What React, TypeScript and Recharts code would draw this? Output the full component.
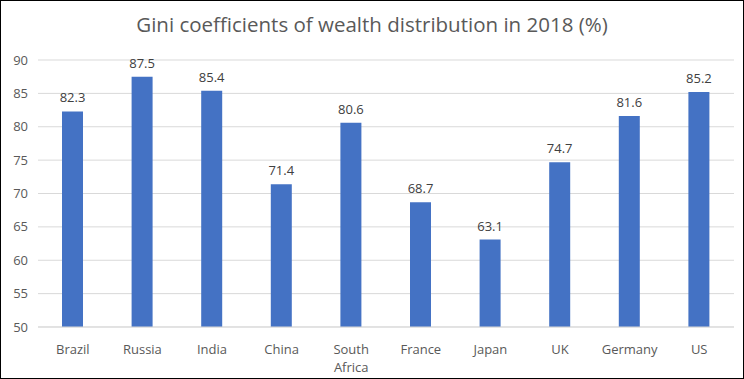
import React from 'react';
import { BarChart, Bar, XAxis, YAxis, CartesianGrid, LabelList } from 'recharts';

const countries = ['Brazil', 'Russia', 'India', 'China', 'South Africa', 'France', 'Japan', 'UK', 'Germany', 'US'];
const gini = [82.3, 87.5, 85.4, 71.4, 80.6, 68.7, 63.1, 74.7, 81.6, 85.2];
const yTicks = [50, 55, 60, 65, 70, 75, 80, 85, 90];

const data = countries.map((name, i) => ({ name, value: gini[i] }));

const FONT = '"Open Sans", "Noto Sans", sans-serif';

const CountryTick = (props: any) => {
    const { x, y, payload } = props;
    const words: string[] = payload.value.split(' ');
    return (
        <text x={x} y={y} textAnchor="middle" fill="#595959" fontSize={13} fontFamily={FONT}>
            {words.map((w, i) => (
                <tspan key={i} x={x} dy={i === 0 ? 19 : 18}>{w}</tspan>
            ))}
        </text>
    );
};

const App: React.FC = () => {
    return (
        <div
            style={{
                position: 'absolute',
                left: 0,
                top: 0,
                width: 744,
                height: 379,
                boxSizing: 'border-box',
                border: '1px solid #000',
                background: '#fff',
                fontFamily: FONT,
            }}
        >
            <div
                style={{
                    position: 'absolute',
                    top: 9,
                    left: 0,
                    width: '100%',
                    textAlign: 'center',
                    fontSize: 20.5,
                    color: '#595959',
                }}
            >
                Gini coefficients of wealth distribution in 2018 (%)
            </div>
            <div style={{ position: 'absolute', left: -1, top: -1 }}>
                <BarChart width={744} height={379} data={data} margin={{ top: 60, right: 10, bottom: 0, left: 0 }}>
                    <CartesianGrid vertical={false} stroke="#d9d9d9" />
                    <XAxis
                        dataKey="name"
                        height={52}
                        axisLine={{ stroke: '#d9d9d9' }}
                        tickLine={false}
                        interval={0}
                        tick={<CountryTick />}
                    />
                    <YAxis
                        width={38}
                        domain={[50, 90]}
                        ticks={yTicks}
                        axisLine={false}
                        tickLine={false}
                        tickSize={0}
                        tickMargin={10}
                        tick={{ fill: '#595959', fontSize: 13, fontFamily: FONT }}
                    />
                    <Bar dataKey="value" fill="#4472C4" barSize={21} isAnimationActive={false}>
                        <LabelList
                            dataKey="value"
                            position="top"
                            offset={9}
                            fill="#404040"
                            fontSize={13}
                            fontFamily={FONT}
                        />
                    </Bar>
                </BarChart>
            </div>
        </div>
    );
};

export default App;
